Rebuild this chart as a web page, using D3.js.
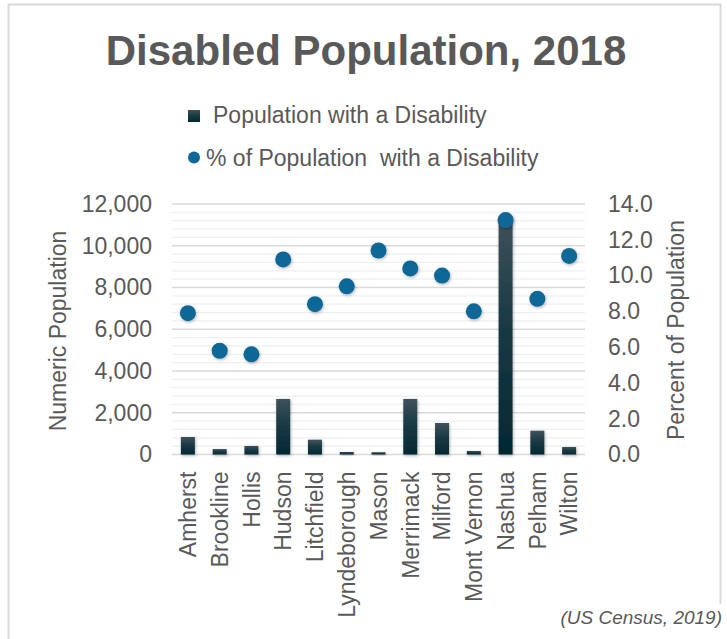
<!DOCTYPE html>
<html>
<head>
<meta charset="utf-8">
<script src="https://cdn.jsdelivr.net/npm/d3@7/dist/d3.min.js"></script>
<style>
  html, body { margin: 0; padding: 0; background: #fff; }
  svg { display: block; font-family: "Liberation Sans", Arial, sans-serif; }
</style>
</head>
<body>
<svg id="chart" width="727" height="639"></svg>
<script>
// Towns in the region
const towns = ["Amherst", "Brookline", "Hollis", "Hudson", "Litchfield", "Lyndeborough",
  "Mason", "Merrimack", "Milford", "Mont Vernon", "Nashua", "Pelham", "Wilton"];
// Number of residents with a disability
const disabledCount = [840, 260, 410, 2660, 710, 120, 110, 2660, 1510, 170, 11400, 1140, 360];
// Share of residents with a disability (%)
const disabledPct = [7.9, 5.8, 5.6, 10.9, 8.4, 9.4, 11.4, 10.4, 10.0, 8.0, 13.1, 8.7, 11.1];
// Axis ticks
const countTicks = [0, 2000, 4000, 6000, 8000, 10000, 12000];
const pctTicks = [0, 2, 4, 6, 8, 10, 12, 14];
const minorCountTicks = d3.range(0, 12001, 400);

const svg = d3.select("#chart");
const textColor = "#595959";

const plot = { left: 172, right: 585, top: 204, bottom: 454.5 };

const x = d3.scaleBand().domain(towns).range([plot.left, plot.right]).paddingInner(0.56).paddingOuter(0.28);
const yCount = d3.scaleLinear().domain([0, 12000]).range([plot.bottom, plot.top]);
const yPct = d3.scaleLinear().domain([0, 14]).range([plot.bottom, plot.top]);

const defs = svg.append("defs");
const grad = defs.append("linearGradient").attr("id", "barGrad")
  .attr("x1", 0).attr("y1", 0).attr("x2", 0).attr("y2", 1);
grad.append("stop").attr("offset", "0%").attr("stop-color", "#3f525a");
grad.append("stop").attr("offset", "45%").attr("stop-color", "#1a3a44");
grad.append("stop").attr("offset", "100%").attr("stop-color", "#032832");

const shadow = defs.append("filter").attr("id", "shadow")
  .attr("x", "-50%").attr("y", "-50%").attr("width", "200%").attr("height", "200%");
shadow.append("feDropShadow").attr("dx", 0.8).attr("dy", 1.2).attr("stdDeviation", 1.6)
  .attr("flood-color", "#000").attr("flood-opacity", 0.3);

// Outer frame
svg.append("path")
  .attr("d", "M8.5,640 V4.5 H720.5 V604")
  .attr("fill", "none").attr("stroke", "#d9d9d9").attr("stroke-width", 2);

// Title
svg.append("text")
  .attr("x", 366).attr("y", 65)
  .attr("text-anchor", "middle")
  .attr("font-size", 42).attr("font-weight", "bold")
  .attr("fill", textColor)
  .text("Disabled Population, 2018");

// Legend
const legend = svg.append("g");
legend.append("rect").attr("x", 188).attr("y", 110).attr("width", 12).attr("height", 12)
  .attr("fill", "url(#barGrad)");
legend.append("text").attr("x", 213).attr("y", 123)
  .attr("font-size", 23).attr("fill", textColor)
  .text("Population with a Disability");
legend.append("circle").attr("cx", 194).attr("cy", 157.5).attr("r", 6)
  .attr("fill", "#0f6897");
legend.append("text").attr("x", 206).attr("y", 166)
  .attr("font-size", 23).attr("fill", textColor)
  .attr("xml:space", "preserve")
  .text("% of Population  with a Disability");

// Gridlines
const grid = svg.append("g");
grid.selectAll("line.minor")
  .data(minorCountTicks.filter(v => v % 2000 !== 0))
  .join("line").attr("class", "minor")
  .attr("x1", plot.left).attr("x2", plot.right)
  .attr("y1", d => yCount(d)).attr("y2", d => yCount(d))
  .attr("stroke", "#efefef").attr("stroke-width", 1.2);
grid.selectAll("line.major")
  .data(countTicks)
  .join("line").attr("class", "major")
  .attr("x1", plot.left).attr("x2", plot.right)
  .attr("y1", d => yCount(d)).attr("y2", d => yCount(d))
  .attr("stroke", "#d9d9d9").attr("stroke-width", 1.5);

// Left axis
const leftAxis = svg.append("g")
  .attr("transform", `translate(${plot.left - 20},0)`)
  .call(d3.axisLeft(yCount).tickValues(countTicks).tickSize(0).tickPadding(0)
    .tickFormat(d3.format(",")));
leftAxis.select(".domain").remove();
leftAxis.selectAll("text").attr("font-size", 23).attr("fill", textColor)
  .attr("font-family", "Liberation Sans, Arial, sans-serif");

// Right axis
const rightAxis = svg.append("g")
  .attr("transform", `translate(${plot.right + 23},0)`)
  .call(d3.axisRight(yPct).tickValues(pctTicks).tickSize(0).tickPadding(0)
    .tickFormat(d3.format(".1f")));
rightAxis.select(".domain").remove();
rightAxis.selectAll("text").attr("font-size", 23).attr("fill", textColor)
  .attr("font-family", "Liberation Sans, Arial, sans-serif");

// Axis titles
svg.append("text")
  .attr("transform", "translate(66,331) rotate(-90)")
  .attr("text-anchor", "middle").attr("font-size", 23).attr("fill", textColor)
  .text("Numeric Population");
svg.append("text")
  .attr("transform", "translate(684,330) rotate(-90)")
  .attr("text-anchor", "middle").attr("font-size", 23).attr("fill", textColor)
  .text("Percent of Population");

// Category axis
const bottomAxis = svg.append("g")
  .attr("transform", `translate(0,${plot.bottom})`)
  .call(d3.axisBottom(x).tickSize(0).tickPadding(0));
bottomAxis.select(".domain").remove();
bottomAxis.selectAll("text")
  .attr("font-size", 23).attr("fill", textColor)
  .attr("font-family", "Liberation Sans, Arial, sans-serif")
  .attr("text-anchor", "end")
  .attr("transform", "rotate(-90)")
  .attr("x", -17).attr("y", 0).attr("dy", "0.36em");

// Bars
svg.append("g").selectAll("rect")
  .data(towns)
  .join("rect")
  .attr("x", d => x(d))
  .attr("width", x.bandwidth())
  .attr("y", (d, i) => yCount(disabledCount[i]))
  .attr("height", (d, i) => plot.bottom - yCount(disabledCount[i]))
  .attr("fill", "url(#barGrad)")
  .attr("filter", "url(#shadow)");

// Percentage markers
svg.append("g").selectAll("circle")
  .data(towns)
  .join("circle")
  .attr("cx", d => x(d) + x.bandwidth() / 2)
  .attr("cy", (d, i) => yPct(disabledPct[i]))
  .attr("r", 8)
  .attr("fill", "#0f6897")
  .attr("filter", "url(#shadow)");

// Source note
svg.append("rect").attr("x", 536).attr("y", 604).attr("width", 191).attr("height", 35).attr("fill", "#fff");
svg.append("text")
  .attr("x", 722).attr("y", 624)
  .attr("text-anchor", "end")
  .attr("font-size", 19).attr("font-style", "italic").attr("fill", textColor)
  .text("(US Census, 2019)");
</script>
</body>
</html>
